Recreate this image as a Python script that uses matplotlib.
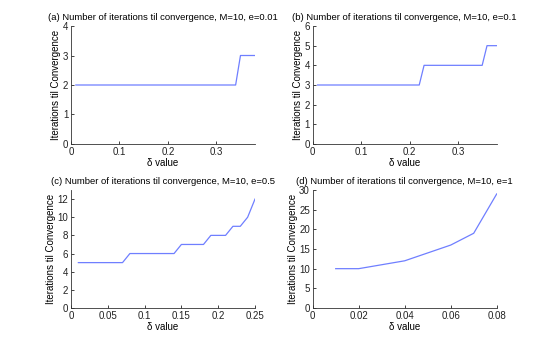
import numpy as np
import matplotlib
matplotlib.use('Agg')
import matplotlib.pyplot as plt

plt.rcParams['font.family'] = ['Liberation Sans', 'DejaVu Sans']

# (a) e=0.01
delta_a = [round(0.01 * i, 2) for i in range(1, 39)]
iter_a = [2] * 34 + [3] * 4
# (b) e=0.1
delta_b = [round(0.01 * i, 2) for i in range(1, 39)]
iter_b = [3] * 22 + [4] * 13 + [5] * 3
# (c) e=0.5
delta_c = [round(0.01 * i, 2) for i in range(1, 26)]
iter_c = [5] * 7 + [6] * 7 + [7] * 4 + [8] * 3 + [9, 9, 10, 12]
# (d) e=1
delta_d = [0.01, 0.02, 0.03, 0.04, 0.05, 0.06, 0.07, 0.08]
iter_d = [10, 10, 11, 12, 14, 16, 19, 29]

titles = ['(a) Number of iterations til convergence, M=10, e=0.01',
          '(b) Number of iterations til convergence, M=10, e=0.1',
          '(c) Number of iterations til convergence, M=10, e=0.5',
          '(d) Number of iterations til convergence, M=10, e=1']

fig = plt.figure(figsize=(5.48, 3.47), dpi=100)
W, H = 548.0, 347.0
# axes boxes in pixels: left, top, right, bottom
boxes = [(71, 26, 255, 144), (312.7, 26, 496.7, 144),
         (71, 190, 255, 308), (312.7, 190, 496.7, 308)]

data = [(delta_a, iter_a, (0, 0.38), (0, 4), [0, 0.1, 0.2, 0.3], [0, 1, 2, 3, 4]),
        (delta_b, iter_b, (0, 0.38), (0, 6), [0, 0.1, 0.2, 0.3], [0, 1, 2, 3, 4, 5, 6]),
        (delta_c, iter_c, (0, 0.25), (0, 13), [0, 0.05, 0.1, 0.15, 0.2, 0.25], [0, 2, 4, 6, 8, 10, 12]),
        (delta_d, iter_d, (0, 0.08), (0, 30), [0, 0.02, 0.04, 0.06, 0.08], [0, 5, 10, 15, 20, 25, 30])]

for (l, t, r, b), (x, y, xl, yl, xt, yt), title in zip(boxes, data, titles):
    ax = fig.add_axes([l / W, 1 - b / H, (r - l) / W, (b - t) / H])
    ax.plot(x, y, color='#6f7fff', linewidth=0.9)
    ax.set_xlim(xl)
    ax.set_ylim(yl)
    ax.set_xticks(xt)
    ax.set_xticklabels(['0' if v == 0 else ('%g' % v) for v in xt])
    ax.set_yticks(yt)
    ax.spines['top'].set_visible(False)
    ax.spines['right'].set_visible(False)
    for s in ['left', 'bottom']:
        ax.spines[s].set_linewidth(0.6)
        ax.spines[s].set_color('#333333')
    ax.tick_params(direction='in', length=2.5, width=0.6, labelsize=7, pad=2, colors='#222222')
    ax.set_xlabel('δ value', fontsize=7, labelpad=1)
    ax.set_ylabel('Iterations til Convergence', fontsize=7, labelpad=1)
    ax.set_title(title, fontsize=6.8, pad=4)

fig.savefig('out.png', dpi=100)
